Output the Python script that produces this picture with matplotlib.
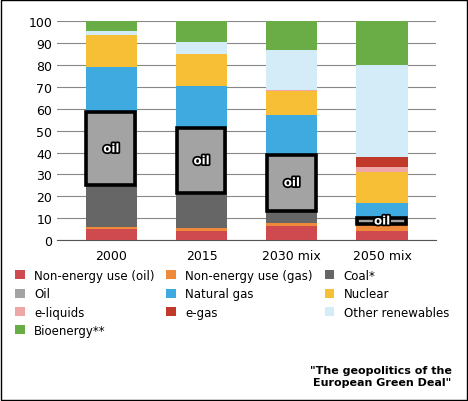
import matplotlib
matplotlib.use("Agg")
import matplotlib.pyplot as plt
import matplotlib.patheffects as pe
from matplotlib.patches import Rectangle
import numpy as np

categories = ["2000", "2015", "2030 mix", "2050 mix"]
series = ["Non-energy use (oil)", "Non-energy use (gas)", "Coal*", "Oil", "Natural gas",
          "Nuclear", "e-liquids", "e-gas", "Other renewables", "Bioenergy**"]
colors = ["#cf4a4f", "#ef8a3a", "#666666", "#a3a3a3", "#3eaae0",
          "#f7bf35", "#eea6a6", "#c0392b", "#d4ecf7", "#6aac45"]
values = {
    "Non-energy use (oil)": [5, 4, 6.5, 4],
    "Non-energy use (gas)": [1, 1.5, 1.5, 3.5],
    "Coal*": [19, 16, 5.5, 0],
    "Oil": [33.5, 29.5, 25.5, 2.5],
    "Natural gas": [20.5, 19.5, 18, 7],
    "Nuclear": [14.5, 14.5, 11, 14],
    "e-liquids": [0, 0, 0.5, 2.5],
    "e-gas": [0, 0, 0, 4.5],
    "Other renewables": [2, 5.5, 18.5, 42],
    "Bioenergy**": [4.5, 9.5, 13, 20],
}

fig = plt.figure(figsize=(4.68, 4.02), dpi=100)
ax = fig.add_axes([0.122, 0.40, 0.81, 0.545])
x = np.arange(len(categories))
w = 0.57
bottom = np.zeros(len(categories))
oil_b = None
for s, c in zip(series, colors):
    v = np.array(values[s])
    ax.bar(x, v, w, bottom=bottom, color=c, label=s, zorder=3)
    if s == "Oil":
        oil_b = bottom.copy()
    bottom += v
oil = np.array(values["Oil"])
for i in range(len(categories)):
    ax.add_patch(Rectangle((x[i] - w / 2 + 0.01, oil_b[i]), w - 0.03, oil[i],
                           fill=False, ec="black", lw=2.6, zorder=4))
    ax.text(x[i], oil_b[i] + oil[i] / 2, "oil", ha="center", va="center",
            fontsize=8.5, fontweight="bold", color="white", zorder=5,
            path_effects=[pe.withStroke(linewidth=2.5, foreground="black")])
ax.set_ylim(0, 100)
ax.set_xlim(-0.6, 3.6)
ax.set_yticks(range(0, 101, 10))
ax.set_xticks(x)
ax.set_xticklabels(categories)
ax.yaxis.grid(True, color="#888888", lw=0.8, zorder=0)
for sp in ["top", "right", "left"]:
    ax.spines[sp].set_visible(False)
ax.spines["bottom"].set_color("#555555")
ax.tick_params(length=0, labelsize=9)
ax.tick_params(axis="x", pad=6)

h, l = ax.get_legend_handles_labels()
order = [0, 3, 6, 9, 1, 4, 7, 2, 5, 8]
fig.legend([h[i] for i in order], [l[i] for i in order], loc="upper left",
           bbox_to_anchor=(0.01, 0.355), ncol=3, frameon=False, fontsize=8.5,
           handlelength=0.8, handleheight=0.8, columnspacing=1.0, labelspacing=0.45,
           handletextpad=0.8)
fig.text(0.965, 0.035, "\"The geopolitics of the\nEuropean Green Deal\"", ha="right",
         va="bottom", fontsize=8, fontweight="bold", linespacing=1.2)
fig.patches.append(Rectangle((0.003, 0.003), 0.994, 0.994, transform=fig.transFigure,
                             fill=False, ec="black", lw=1))
fig.savefig("out.png", dpi=100)
